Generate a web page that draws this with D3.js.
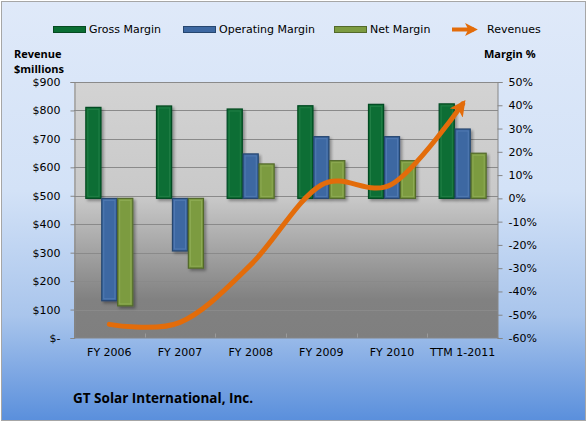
<!DOCTYPE html>
<html>
<head>
<meta charset="utf-8">
<script src="https://cdn.jsdelivr.net/npm/d3@7"></script>
<style>
  body { margin: 0; background: #fff; }
  svg text { font-family: "DejaVu Sans", sans-serif; font-size: 11px; fill: #000; }
  svg text.bold { font-family: "Open Sans", sans-serif; font-weight: bold; }
</style>
</head>
<body>
<div id="chart"></div>
<script>
var categories = ["FY 2006", "FY 2007", "FY 2008", "FY 2009", "FY 2010", "TTM 1-2011"];
var grossMargin = [39.1, 39.7, 38.4, 39.8, 40.4, 40.6];
var operatingMargin = [-44, -22.6, 19.1, 26.5, 26.5, 29.8];
var netMargin = [-46.2, -30, 14.8, 16.2, 16.2, 19.4];
var revenues = [48, 55, 257, 538, 541, 823];
var revenueTicks = [0, 100, 200, 300, 400, 500, 600, 700, 800, 900];
var marginTicks = [50, 40, 30, 20, 10, 0, -10, -20, -30, -40, -50, -60];

var series = [
  {name: "Gross Margin", values: grossMargin, fill: "#0a6e34", edge: "#064a22", light: "#2f8a52"},
  {name: "Operating Margin", values: operatingMargin, fill: "#3d68a2", edge: "#26466f", light: "#5d86bd"},
  {name: "Net Margin", values: netMargin, fill: "#7c9b41", edge: "#52692a", light: "#9ab660"}
];

var width = 588, height = 423;
var plot = {left: 74, right: 498, top: 82, bottom: 338};

var svg = d3.select("#chart").append("svg")
  .attr("width", width)
  .attr("height", height);

var defs = svg.append("defs");

var bgGrad = defs.append("linearGradient").attr("id", "bgGrad")
  .attr("x1", 0).attr("y1", 0).attr("x2", 0).attr("y2", 1);
bgGrad.append("stop").attr("offset", "0%").attr("stop-color", "#dfe9f9");
bgGrad.append("stop").attr("offset", "45%").attr("stop-color", "#d3e2f7");
bgGrad.append("stop").attr("offset", "75%").attr("stop-color", "#a9c5ec");
bgGrad.append("stop").attr("offset", "100%").attr("stop-color", "#5a8fdc");

var plotGrad = defs.append("linearGradient").attr("id", "plotGrad")
  .attr("x1", 0).attr("y1", 0).attr("x2", 0).attr("y2", 1);
plotGrad.append("stop").attr("offset", "0%").attr("stop-color", "#d3d3d3");
plotGrad.append("stop").attr("offset", "45%").attr("stop-color", "#c9c9c9");
plotGrad.append("stop").attr("offset", "85%").attr("stop-color", "#818181");
plotGrad.append("stop").attr("offset", "100%").attr("stop-color", "#7f7f7f");

var shadow = defs.append("filter").attr("id", "shadow")
  .attr("x", "-30%").attr("y", "-10%").attr("width", "160%").attr("height", "130%");
shadow.append("feDropShadow").attr("dx", 2).attr("dy", 2).attr("stdDeviation", 1.5)
  .attr("flood-color", "#000").attr("flood-opacity", 0.35);

defs.append("marker").attr("id", "arrow")
  .attr("viewBox", "0 0 10 10").attr("refX", 7).attr("refY", 5)
  .attr("markerWidth", 3.2).attr("markerHeight", 3.2)
  .attr("orient", "auto")
  .append("path").attr("d", "M0,0 L10,5 L0,10 L2.5,5 Z").attr("fill", "#e36c0a");

// chart area
svg.append("rect")
  .attr("x", 1.5).attr("y", 1.5).attr("width", 584).attr("height", 419)
  .attr("fill", "url(#bgGrad)").attr("stroke", "#a6a6a6");

svg.append("rect")
  .attr("x", plot.left).attr("y", plot.top)
  .attr("width", plot.right - plot.left).attr("height", plot.bottom - plot.top)
  .attr("fill", "url(#plotGrad)");

var x = d3.scaleBand().domain(categories).range([plot.left, plot.right]);
var xSeries = d3.scaleBand().domain(series.map(function(s) { return s.name; }))
  .range([-23.5, 23.5]).paddingInner(0.05);
var yRev = d3.scaleLinear().domain([0, 900]).range([plot.bottom, plot.top]);
var yMargin = d3.scaleLinear().domain([-60, 50]).range([plot.bottom, plot.top]);

// gridlines
svg.append("g")
  .selectAll("line")
  .data(revenueTicks.slice(1))
  .enter().append("line")
  .attr("x1", plot.left).attr("x2", plot.right)
  .attr("y1", function(d) { return Math.round(yRev(d)) + 0.5; })
  .attr("y2", function(d) { return Math.round(yRev(d)) + 0.5; })
  .attr("stroke", "#8a8a8a").attr("stroke-width", 1);

// left axis
var leftAxis = d3.axisLeft(yRev).tickValues(revenueTicks).tickSize(4).tickPadding(10)
  .tickFormat(function(d) { return d === 0 ? "$-" : "$" + d; });
var gl = svg.append("g").attr("transform", "translate(" + (plot.left + 0.5) + ",0)").call(leftAxis);
gl.select(".domain").attr("stroke", "#868686");
gl.selectAll(".tick line").attr("stroke", "#868686");
gl.selectAll("text").attr("font-size", 11).attr("font-family", "DejaVu Sans");

// right axis
var rightAxis = d3.axisRight(yMargin).tickValues(marginTicks).tickSize(5).tickPadding(6)
  .tickFormat(function(d) { return d + "%"; });
var gr = svg.append("g").attr("transform", "translate(" + (plot.right - 0.5) + ",0)").call(rightAxis);
gr.select(".domain").attr("stroke", "#868686");
gr.selectAll(".tick line").attr("stroke", "#868686");
gr.selectAll("text").attr("font-size", 11).attr("font-family", "DejaVu Sans");

// bottom axis
var bottomAxis = d3.axisBottom(x).tickSize(0).tickPadding(11);
var gb = svg.append("g").attr("transform", "translate(0," + (plot.bottom - 0.5) + ")").call(bottomAxis);
gb.select(".domain").attr("stroke", "#868686");
gb.selectAll("text").attr("font-size", 11).attr("font-family", "DejaVu Sans");
gb.selectAll(".sep").data(categories.slice(1)).enter().append("line")
  .attr("x1", function(d) { return Math.round(x(d)) + 0.5; })
  .attr("x2", function(d) { return Math.round(x(d)) + 0.5; })
  .attr("y1", 0).attr("y2", -4).attr("stroke", "#9a9a9a");

// bars
series.forEach(function(s) {
  var g = svg.append("g");
  var bars = g.selectAll("g.bar")
    .data(s.values)
    .enter().append("g")
    .attr("class", "bar");
  bars.append("rect")
    .attr("x", function(d, i) { return x.bandwidth() / 2 + x(categories[i]) + xSeries(s.name); })
    .attr("y", function(d) { return yMargin(Math.max(0, d)); })
    .attr("width", xSeries.bandwidth())
    .attr("height", function(d) { return Math.abs(yMargin(d) - yMargin(0)); })
    .attr("fill", s.fill)
    .attr("stroke", s.edge)
    .attr("stroke-width", 1.2)
    .attr("filter", "url(#shadow)");
  bars.append("rect")
    .attr("x", function(d, i) { return x.bandwidth() / 2 + x(categories[i]) + xSeries(s.name) + 2; })
    .attr("y", function(d) { return yMargin(Math.max(0, d)) + 2; })
    .attr("width", xSeries.bandwidth() - 4)
    .attr("height", function(d) { return Math.max(0, Math.abs(yMargin(d) - yMargin(0)) - 4); })
    .attr("fill", "none")
    .attr("stroke", s.light)
    .attr("stroke-opacity", 0.6)
    .attr("stroke-width", 1);
});

// revenue line
var line = d3.line()
  .x(function(d, i) { return x(categories[i]) + x.bandwidth() / 2; })
  .y(function(d) { return yRev(d); })
  .curve(d3.curveCardinal.tension(0));

svg.append("path")
  .datum(revenues)
  .attr("d", line)
  .attr("fill", "none")
  .attr("stroke", "#e36c0a")
  .attr("stroke-width", 5)
  .attr("stroke-linecap", "round")
  .attr("marker-end", "url(#arrow)");

// legend
var legend = svg.append("g");
var legendX = [53, 183, 334];
series.forEach(function(s, i) {
  legend.append("rect")
    .attr("x", legendX[i] + 0.5).attr("y", 26.5).attr("width", 32).attr("height", 6)
    .attr("fill", s.fill).attr("stroke", s.edge);
  legend.append("text")
    .attr("x", legendX[i] + 36).attr("y", 33)
    .text(s.name);
});
legend.append("line")
  .attr("x1", 452).attr("x2", 474).attr("y1", 29.5).attr("y2", 29.5)
  .attr("stroke", "#e36c0a").attr("stroke-width", 4)
  .attr("marker-end", "url(#arrow)");
legend.append("text").attr("x", 487).attr("y", 33).text("Revenues");

// axis titles
svg.append("text").attr("class", "bold").attr("x", 14).attr("y", 58).text("Revenue");
svg.append("text").attr("class", "bold").attr("x", 14).attr("y", 73).text("$millions");
svg.append("text").attr("class", "bold").attr("x", 484).attr("y", 58).text("Margin %");

// chart title
svg.append("text").attr("class", "bold")
  .attr("x", 73).attr("y", 403)
  .style("font-size", "13.5px")
  .text("GT Solar International, Inc.");
</script>
</body>
</html>
